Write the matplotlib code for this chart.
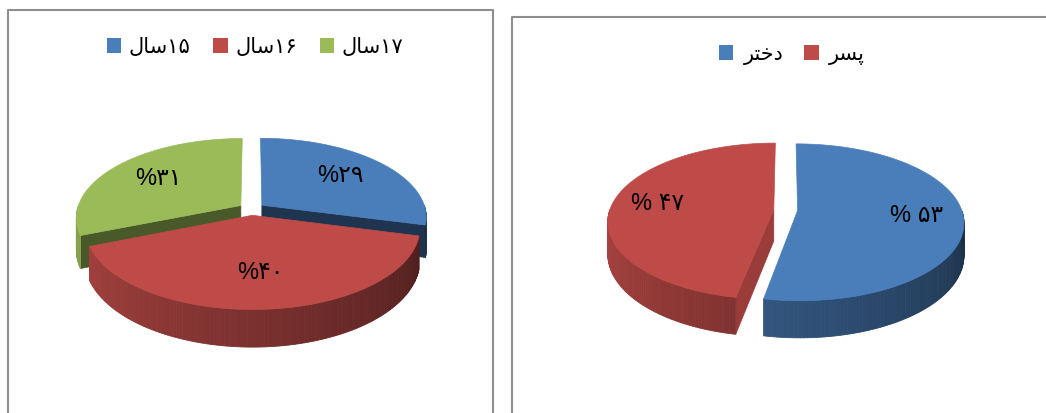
import numpy as np
import matplotlib
matplotlib.use("Agg")
import matplotlib.pyplot as plt
from matplotlib.patches import Polygon, Patch

# data (Persian text kept in visual order with presentation forms, since matplotlib does no shaping)
age_labels = ["\uFEDD\uFE8E\uFEB3\u06F1\u06F5", "\uFEDD\uFE8E\uFEB3\u06F1\u06F6", "\uFEDD\uFE8E\uFEB3\u06F1\u06F7"]
age_values = [29, 40, 31]
age_pct_text = ["%\u06F2\u06F9", "%\u06F4\u06F0", "%\u06F3\u06F1"]

gender_labels = ["\uFEAE\uFE98\uFEA7\uFEA9", "\uFEAE\uFEB4\uFB58"]
gender_values = [53, 47]
gender_pct_text = ["% \u06F5\u06F3", "% \u06F4\u06F7"]

BLUE = "#4a7ebb"
RED = "#be4b48"
GREEN = "#9bbb59"
FONTS = ["Liberation Sans", "DejaVu Sans"]


def shade(color, f):
    c = np.array(matplotlib.colors.to_rgb(color))
    return tuple(np.clip(c * f, 0, 1))


def proj(cx, cy, rx, ry, u, v, k):
    s = 1.0 / (1.0 + k * v)
    return cx + rx * u * s, cy - ry * v * s, s


def draw_pie3d(ax, values, colors, texts, cx, cy, rx, ry, depth, explode, label_r, k=0.15):
    fracs = np.array(values, dtype=float) / sum(values)
    slices = []
    a = 90.0
    for i, f in enumerate(fracs):
        a2 = a - 360.0 * f
        mid = np.radians((a + a2) / 2)
        slices.append((a2, a, explode * np.cos(mid), explode * np.sin(mid), i))
        a = a2
    # back to front
    slices.sort(key=lambda s: -s[3])

    for lo, hi, ex, ey, i in slices:
        col = colors[i]

        def pt(ang, r=1.0):
            t = np.radians(ang)
            return proj(cx, cy, rx, ry, ex + r * np.cos(t), ey + r * np.sin(t), k)

        # radial walls facing the viewer
        for phi, nrm in [(lo, lo - 90), (hi, hi + 90)]:
            if np.sin(np.radians(nrm)) < -0.05:
                x0, y0, s0 = pt(phi, 0.0)
                x1, y1, s1 = pt(phi, 1.0)
                c = max(0.0, np.cos(np.radians(nrm)))
                f = 0.42 + 0.4 * c * c
                poly = [(x0, y0), (x1, y1), (x1, y1 + depth * s1), (x0, y0 + depth * s0)]
                ax.add_patch(Polygon(poly, closed=True, fc=shade(col, f), ec=shade(col, f), lw=0.5))

        # outer wall, drawn in thin strips for the gradient
        angs = np.linspace(lo, hi, max(int((hi - lo) / 1.0), 2) + 1)
        for t0, t1 in zip(angs[:-1], angs[1:]):
            tm = (t0 + t1) / 2
            if np.sin(np.radians(tm)) >= 0:
                continue
            p = ((tm % 360) - 180) / 180.0
            f = 0.92 - 0.55 * p
            xa, ya, sa = pt(t0)
            xb, yb, sb = pt(t1)
            poly = [(xa, ya), (xb, yb), (xb, yb + depth * sb), (xa, ya + depth * sa)]
            ax.add_patch(Polygon(poly, closed=True, fc=shade(col, f), ec=shade(col, f), lw=0.6))

        # top face
        arc = np.linspace(lo, hi, 120)
        top = [pt(lo, 0.0)[:2]] + [pt(t)[:2] for t in arc]
        ax.add_patch(Polygon(top, closed=True, fc=col, ec=col, lw=0.5))

    for lo, hi, ex, ey, i in slices:
        mid = np.radians((lo + hi) / 2)
        x, y, _ = proj(cx, cy, rx, ry, ex + label_r * np.cos(mid), ey + label_r * np.sin(mid), k)
        ax.text(x, y, texts[i], ha="center", va="center", fontsize=17, color="black", family=FONTS)


fig = plt.figure(figsize=(10.46, 4.13), dpi=100)
ax = fig.add_axes([0, 0, 1, 1])
ax.set_xlim(0, 1046)
ax.set_ylim(413, 0)
ax.axis("off")

# panel frames
ax.plot([8, 8, 492.5, 492.5], [420, 10, 10, 420], color="#8e8e8e", lw=1.5)
ax.plot([511.5, 511.5, 1060], [420, 16.5, 16.5], color="#8e8e8e", lw=1.5)

draw_pie3d(ax, age_values, [BLUE, RED, GREEN], age_pct_text,
           cx=251.6, cy=209, rx=163.5, ry=78, depth=31.5, explode=0.08, label_r=0.65)
draw_pie3d(ax, gender_values, [BLUE, RED], gender_pct_text,
           cx=785.7, cy=210, rx=164, ry=76.5, depth=31.5, explode=0.073, label_r=0.72)

leg1 = ax.legend(handles=[Patch(fc=c, ec="none") for c in [BLUE, RED, GREEN]], labels=age_labels,
                 loc="center", bbox_to_anchor=(255, 47), bbox_transform=ax.transData,
                 ncol=3, frameon=False, handlelength=0.7, handleheight=0.7,
                 handletextpad=0.35, columnspacing=1.1, prop={"family": FONTS, "size": 15})
ax.add_artist(leg1)
ax.legend(handles=[Patch(fc=c, ec="none") for c in [BLUE, RED]], labels=gender_labels,
          loc="center", bbox_to_anchor=(792, 55), bbox_transform=ax.transData,
          ncol=2, frameon=False, handlelength=0.7, handleheight=0.7,
          handletextpad=0.5, columnspacing=1.0, prop={"family": FONTS, "size": 15})

fig.savefig("out.png", dpi=100)
